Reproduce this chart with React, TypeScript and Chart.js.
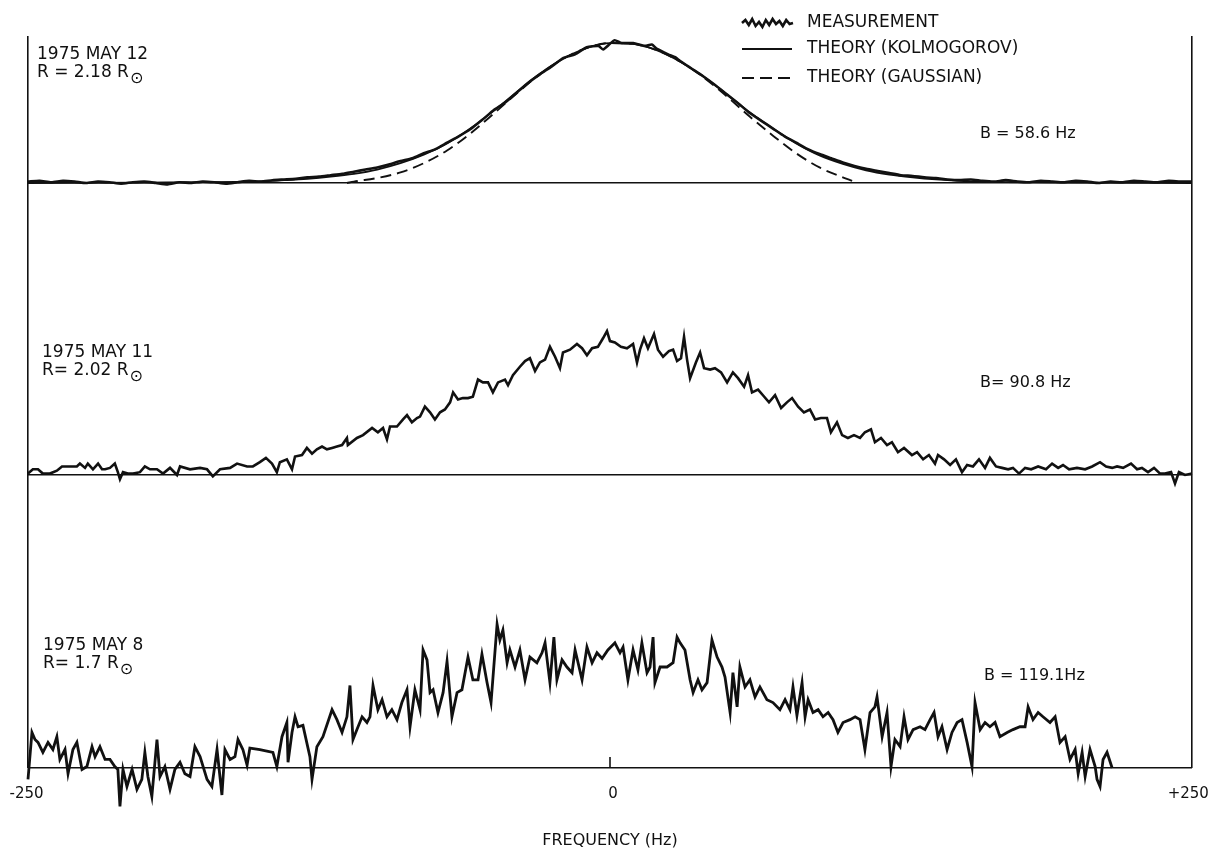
import { useEffect, useRef } from 'react';
import { Chart, registerables } from 'chart.js';

Chart.register(...registerables);

const FONT = '"DejaVu Sans", sans-serif';
const INK = '#111111';

// Frequency axis (Hz); padding spaces nudge the centred labels
const FREQ_TICKS = [-250, 0, 250];
const FREQ_TICK_LABELS = ['-250\u2009', '\u2009\u20090', '+250\u2002'];

// 1975 May 12, R = 2.18 Rsun — [frequency Hz, relative power %]
const MAY12_MEASURED: [number, number][] = [
  [-250, 1], [-245, 1.5], [-240, 0.5], [-235, 1.5], [-230, 1], [-225, 0], [-220, 1], [-215, 0.5],
  [-210, -0.5], [-205, 0.5], [-200, 1], [-195, 0], [-190, -1], [-185, 0.5], [-180, 0], [-175, 1],
  [-170, 0.5], [-165, -0.5], [-160, 0.5], [-155, 1.5], [-150, 1], [-145, 2], [-140, 2.5], [-135, 3],
  [-130, 4], [-125, 4.5], [-120, 5.5], [-115, 6.5], [-110, 8], [-105, 9.5], [-100, 11], [-95, 13],
  [-90, 15.5], [-85, 17.5], [-80, 21], [-75, 24], [-70, 28.5], [-65, 33], [-60, 38], [-55, 44.5],
  [-50, 51.5], [-45, 57], [-40, 64], [-35, 71], [-30, 77], [-25, 82.5], [-20, 88.5], [-15, 91],
  [-10, 96], [-5, 97], [-3, 94.5], [0, 98.5], [2, 101], [5, 99], [10, 99], [15, 97], [18, 98],
  [20, 95], [25, 91], [28, 89], [30, 86.5], [35, 81], [40, 75.5], [45, 69.5], [50, 63], [55, 56.5],
  [60, 49.5], [65, 44], [70, 38.5], [75, 33], [80, 28.5], [85, 24], [90, 20.5], [95, 17.5],
  [100, 14.5], [105, 12], [110, 10], [115, 8.5], [120, 7], [125, 5.5], [130, 5], [135, 4],
  [140, 3.5], [145, 2.5], [150, 2], [155, 2.5], [160, 1.5], [165, 1], [170, 2], [175, 1],
  [180, 0.5], [185, 1.5], [190, 1], [195, 0.5], [200, 1.5], [205, 1], [210, 0], [215, 1],
  [220, 0.5], [225, 1.5], [230, 1], [235, 0.5], [240, 1.5], [245, 1], [250, 1],
];

const MAY12_KOLMOGOROV: [number, number][] = [
  [-250, 0], [-200, 0.3], [-160, 0.8], [-150, 1.2], [-140, 2], [-130, 3], [-120, 4.5], [-110, 6.5],
  [-100, 9.5], [-90, 14], [-80, 20], [-70, 28], [-60, 38.5], [-50, 51], [-40, 64.5], [-30, 77.5],
  [-20, 88], [-10, 95.5], [0, 99], [10, 98.5], [20, 94], [30, 86], [40, 75.5], [50, 63],
  [60, 50], [70, 38.5], [80, 28], [90, 19.5], [100, 13.5], [110, 9], [120, 6], [130, 4],
  [140, 2.5], [150, 1.5], [160, 1], [200, 0.3], [250, 0],
];

const MAY12_GAUSSIAN: [number, number][] = [
  [-113, 0], [-110, 1], [-100, 3.5], [-90, 7.5], [-80, 14], [-70, 23], [-60, 35], [-50, 49],
  [-40, 63.5], [-30, 77], [-20, 88], [-10, 95.5], [0, 99], [10, 98.5], [20, 94], [30, 86],
  [40, 75], [50, 61.5], [60, 47], [70, 33.5], [80, 21], [90, 11], [100, 4], [104, 1.5],
];

// 1975 May 11, R = 2.02 Rsun
const MAY11_MEASURED: [number, number][] = [
  [-250.0, 1], [-247.9, 4], [-245.7, 4], [-243.6, 1], [-240.6, 1], [-237.6, 3], [-235.4, 6], [-233.3, 6],
  [-231.1, 6], [-229.0, 6], [-227.7, 8], [-225.5, 5], [-224.3, 8], [-222.1, 4], [-219.9, 8], [-218.2, 4],
  [-216.9, 4], [-214.8, 5], [-212.7, 8], [-211.4, 2], [-210.5, -3], [-209.2, 2], [-207.1, 1], [-204.9, 1],
  [-201.9, 2], [-199.8, 6], [-197.6, 4], [-194.6, 4], [-192.0, 1], [-189.0, 5], [-186.0, 0], [-184.7, 6],
  [-180.4, 4], [-176.1, 5], [-173.1, 4], [-170.6, -1], [-167.5, 4], [-163.2, 5], [-160.2, 8], [-155.9, 6],
  [-153.4, 6], [-150.4, 9], [-147.8, 12], [-145.2, 8], [-143.1, 2], [-141.8, 9], [-138.8, 11], [-136.6, 4],
  [-135.3, 13], [-132.3, 14], [-130.2, 19], [-128.0, 15], [-125.9, 18], [-123.7, 20], [-121.6, 18], [-119.4, 19],
  [-117.3, 20], [-115.1, 21], [-113.0, 26], [-112.6, 21], [-108.7, 26], [-106.1, 28], [-102.2, 33], [-99.7, 30],
  [-97.5, 33], [-95.8, 25], [-94.5, 34], [-91.5, 34], [-88.9, 39], [-87.2, 42], [-85.1, 37], [-82.9, 40],
  [-81.6, 41], [-79.5, 48], [-77.3, 44], [-75.2, 39], [-73.0, 44], [-70.9, 46], [-68.7, 51], [-67.4, 58],
  [-65.3, 53], [-63.2, 54], [-61.0, 54], [-58.9, 55], [-56.7, 67], [-54.6, 65], [-52.4, 65], [-50.3, 58],
  [-48.1, 65], [-45.1, 67], [-43.8, 63], [-41.7, 70], [-38.7, 76], [-36.5, 80], [-34.4, 82], [-32.2, 73],
  [-30.1, 79], [-27.9, 81], [-25.8, 90], [-23.6, 83], [-21.5, 75], [-20.2, 86], [-17.2, 88], [-14.2, 92],
  [-12.0, 89], [-9.9, 84], [-7.7, 89], [-5.2, 90], [-3.0, 96], [-1.3, 101], [0.0, 94], [2.1, 93],
  [4.7, 90], [7.3, 89], [9.9, 92], [11.6, 79], [12.9, 88], [14.6, 96], [16.3, 89], [18.9, 99],
  [20.6, 88], [22.8, 83], [25.3, 87], [27.1, 88], [28.8, 80], [30.5, 82], [31.8, 97], [33.1, 81],
  [34.4, 68], [36.9, 79], [38.7, 86], [40.4, 75], [43.0, 74], [45.1, 75], [47.7, 72], [50.3, 65],
  [52.8, 72], [55.0, 68], [57.6, 62], [59.3, 70], [61.0, 58], [63.6, 60], [65.7, 56], [68.3, 51],
  [70.9, 56], [73.5, 47], [76.0, 51], [78.2, 54], [80.8, 48], [83.3, 44], [85.9, 46], [88.1, 39],
  [90.6, 40], [93.2, 40], [94.9, 30], [97.5, 37], [99.7, 28], [102.2, 26], [104.8, 28], [107.4, 26],
  [109.5, 30], [112.1, 32], [113.8, 23], [116.4, 26], [119.0, 21], [121.1, 23], [123.7, 16], [126.3, 19],
  [129.7, 14], [131.9, 16], [134.5, 11], [137.0, 14], [139.6, 8], [140.9, 14], [143.5, 11], [146.1, 7],
  [148.6, 11], [151.2, 2], [153.4, 7], [155.9, 6], [158.5, 11], [161.1, 5], [163.2, 12], [165.8, 6],
  [168.4, 5], [171.0, 4], [173.1, 5], [175.7, 1], [178.3, 5], [180.9, 4], [183.9, 6], [187.3, 4],
  [189.9, 8], [192.5, 5], [194.6, 7], [197.2, 4], [200.6, 5], [204.1, 4], [207.1, 6], [210.5, 9],
  [213.1, 6], [215.7, 5], [217.8, 6], [220.4, 5], [223.8, 8], [226.4, 4], [228.5, 5], [231.1, 2],
  [233.7, 5], [236.3, 1], [238.4, 1], [241.0, 2], [242.7, -6], [244.4, 2], [247.0, 0], [250.0, 1],
];

// 1975 May 8, R = 1.7 Rsun
const MAY8_MEASURED: [number, number][] = [
  [-250.0, -8], [-248.3, 25], [-247.0, 20], [-245.7, 18], [-243.6, 11], [-241.4, 18], [-239.3, 13], [-237.6, 22],
  [-236.3, 6], [-234.1, 13], [-232.8, -4], [-230.7, 13], [-229.0, 18], [-226.8, -1], [-224.7, 1], [-222.5, 15],
  [-221.2, 8], [-219.1, 15], [-216.9, 6], [-214.8, 6], [-212.7, 1], [-211.4, -1], [-210.5, -27], [-209.2, -1],
  [-207.5, -13], [-205.3, -1], [-203.2, -15], [-201.1, -8], [-199.8, 11], [-198.5, -6], [-196.8, -20], [-194.6, 20],
  [-193.3, -6], [-191.2, 1], [-189.0, -15], [-186.9, -1], [-184.7, 4], [-182.6, -4], [-180.4, -6], [-178.3, 15],
  [-176.1, 8], [-173.1, -8], [-171.0, -13], [-168.8, 13], [-166.7, -19], [-165.4, 13], [-163.2, 6], [-161.1, 8],
  [-159.8, 20], [-157.7, 13], [-155.9, 2], [-154.7, 14], [-150.4, 13], [-144.8, 11], [-143.1, 1], [-140.9, 22],
  [-138.8, 32], [-138.3, 4], [-136.6, 25], [-135.3, 36], [-134.0, 29], [-131.9, 30], [-128.9, 8], [-128.0, -8],
  [-125.9, 15], [-123.3, 22], [-119.4, 41], [-117.3, 34], [-115.1, 25], [-113.0, 36], [-111.7, 58], [-110.4, 20],
  [-108.7, 27], [-106.5, 36], [-104.4, 32], [-103.1, 36], [-101.8, 58], [-99.7, 41], [-97.9, 48], [-95.8, 36],
  [-93.7, 41], [-91.5, 34], [-89.4, 46], [-87.2, 55], [-85.9, 29], [-83.8, 55], [-81.6, 41], [-80.3, 83],
  [-78.6, 76], [-77.3, 53], [-76.0, 55], [-73.9, 39], [-71.7, 53], [-70.0, 75], [-67.9, 36], [-65.7, 53],
  [-63.6, 55], [-61.0, 78], [-58.9, 62], [-56.7, 62], [-55.0, 80], [-52.8, 60], [-51.1, 46], [-48.5, 101],
  [-47.3, 90], [-46.0, 97], [-44.2, 74], [-43.0, 83], [-40.8, 71], [-38.7, 83], [-36.5, 62], [-34.4, 78],
  [-31.4, 74], [-29.2, 81], [-27.9, 88], [-25.8, 60], [-24.1, 92], [-22.8, 62], [-20.6, 76], [-18.5, 71],
  [-16.3, 67], [-15.0, 83], [-12.0, 62], [-9.9, 85], [-7.7, 74], [-5.6, 81], [-3.4, 77], [-0.9, 83],
  [2.1, 88], [4.3, 81], [5.6, 85], [7.7, 62], [9.9, 83], [12.0, 69], [13.7, 88], [15.9, 67],
  [17.2, 71], [18.5, 92], [19.3, 60], [21.5, 71], [24.5, 71], [27.1, 74], [28.8, 92], [30.1, 88],
  [32.2, 83], [34.4, 62], [35.7, 53], [37.8, 62], [39.5, 55], [41.7, 60], [43.8, 90], [46.0, 78],
  [48.1, 71], [49.4, 64], [51.6, 39], [52.8, 67], [54.6, 43], [55.8, 71], [58.0, 57], [60.1, 62],
  [62.3, 50], [64.4, 57], [67.4, 48], [70.0, 46], [73.0, 41], [75.2, 48], [77.3, 41], [78.6, 57],
  [80.3, 37], [82.5, 60], [83.8, 36], [85.1, 48], [87.2, 39], [89.4, 41], [91.5, 36], [93.7, 39],
  [95.8, 34], [97.9, 25], [100.1, 32], [103.1, 34], [105.3, 36], [107.4, 34], [109.5, 13], [111.7, 39],
  [113.8, 43], [114.7, 50], [116.9, 22], [119.0, 39], [120.7, 1], [122.4, 20], [124.6, 15], [126.3, 36],
  [128.0, 20], [130.2, 27], [133.2, 29], [135.3, 27], [137.5, 34], [139.2, 39], [140.9, 22], [142.6, 29],
  [144.8, 13], [146.9, 25], [149.1, 32], [151.2, 34], [153.4, 18], [155.5, 1], [156.8, 46], [159.0, 27],
  [161.1, 32], [163.2, 29], [165.4, 32], [167.5, 22], [170.6, 25], [173.1, 27], [176.1, 29], [178.3, 29],
  [179.6, 43], [181.7, 34], [183.9, 39], [186.0, 36], [189.0, 32], [191.2, 36], [193.3, 18], [195.5, 22],
  [197.6, 6], [199.8, 13], [201.1, -4], [202.8, 11], [204.1, -6], [206.2, 13], [208.4, 1], [209.2, -8],
  [210.5, -13], [211.8, 6], [213.5, 11], [215.7, 0],
];

// Panel captions, top to bottom
const PANEL_AXES = ['y12', 'y11', 'y8'];
const PANEL_DATES = ['1975 MAY 12', '1975 MAY 11', '1975 MAY 8'];
const PANEL_RADII = ['R = 2.18 R', 'R= 2.02 R', 'R= 1.7 R'];
const PANEL_BANDWIDTHS = ['B = 58.6 Hz', 'B= 90.8 Hz', 'B = 119.1Hz'];

const LEGEND_LABELS = ['MEASUREMENT', 'THEORY (KOLMOGOROV)', 'THEORY (GAUSSIAN)'];

const toXY = (pts: [number, number][]) => pts.map(([x, y]) => ({ x, y }));

// one hidden linear axis per panel, stacked on the left; only its zero line is drawn
const panelAxis = (max: number, weight: number) => ({
  type: 'linear' as const,
  position: 'left' as const,
  stack: 'panels',
  stackWeight: weight,
  min: 0,
  max,
  afterBuildTicks: (s: any) => {
    s.ticks = [{ value: 0 }];
  },
  afterFit: (s: any) => {
    s.width = 0;
  },
  ticks: { display: false },
  border: { display: false },
  grid: { drawTicks: false, color: INK, lineWidth: 1.6 },
});

// captions, legend and the inward zero tick
const decorations = {
  id: 'spectrumDecorations',
  afterDraw(chart: any) {
    const { ctx, scales } = chart;
    const xs = scales.x;
    ctx.save();
    ctx.fillStyle = INK;
    ctx.strokeStyle = INK;

    const x0 = xs.getPixelForValue(0);
    const b8 = scales.y8.getPixelForValue(0);
    ctx.lineWidth = 1.6;
    ctx.beginPath();
    ctx.moveTo(x0, b8 - 11);
    ctx.lineTo(x0, b8);
    ctx.stroke();

    const dateOffsets = [124, 118, 118];
    const bOffsets = [49, 92, 92];
    const leftX = [37, 42, 43];
    const bX = [980, 980, 984];
    PANEL_AXES.forEach((id, i) => {
      const base = scales[id].getPixelForValue(0);
      const top = base - dateOffsets[i];
      ctx.font = `17px ${FONT}`;
      ctx.textBaseline = 'alphabetic';
      ctx.textAlign = 'left';
      ctx.fillText(PANEL_DATES[i], leftX[i], top);
      ctx.fillText(PANEL_RADII[i], leftX[i], top + 18);
      const w = ctx.measureText(PANEL_RADII[i]).width;
      ctx.font = `16px ${FONT}`;
      ctx.fillText('\u2299', leftX[i] + w + 1, top + 24);
      ctx.textBaseline = 'middle';
      ctx.fillText(PANEL_BANDWIDTHS[i], bX[i], base - bOffsets[i]);
    });

    // legend
    const lx0 = 742;
    const lx1 = 793;
    const rows = [23, 49, 78];
    ctx.lineWidth = 2.6;
    const wiggle = [0, -3, 2, -4, 3, -1, 4, -3, 2, -4, 1, -2, 3, -3, 1, 0];
    ctx.beginPath();
    wiggle.forEach((d, k) => {
      const px = lx0 + ((lx1 - lx0) * k) / (wiggle.length - 1);
      if (k === 0) ctx.moveTo(px, rows[0] + d);
      else ctx.lineTo(px, rows[0] + d);
    });
    ctx.stroke();
    ctx.lineWidth = 2;
    ctx.beginPath();
    ctx.moveTo(lx0, rows[1]);
    ctx.lineTo(lx1 - 1, rows[1]);
    ctx.stroke();
    ctx.setLineDash([12, 6]);
    ctx.beginPath();
    ctx.moveTo(lx0, rows[2]);
    ctx.lineTo(lx1, rows[2]);
    ctx.stroke();
    ctx.setLineDash([]);

    ctx.font = `17px ${FONT}`;
    ctx.textBaseline = 'middle';
    LEGEND_LABELS.forEach((t, i) => ctx.fillText(t, 807, rows[i]));
    ctx.restore();
  },
};

export default function App() {
  const ref = useRef<HTMLCanvasElement | null>(null);

  useEffect(() => {
    if (!ref.current) return;
    const line = {
      borderColor: INK,
      pointRadius: 0,
      pointHoverRadius: 0,
      clip: false as const,
      fill: false,
    };
    const chart = new Chart(ref.current, {
      type: 'line',
      data: {
        datasets: [
          { ...line, label: LEGEND_LABELS[0], data: toXY(MAY12_MEASURED), yAxisID: 'y12', borderWidth: 2.6, tension: 0.2 },
          { ...line, label: LEGEND_LABELS[1], data: toXY(MAY12_KOLMOGOROV), yAxisID: 'y12', borderWidth: 1.8, cubicInterpolationMode: 'monotone' },
          { ...line, label: LEGEND_LABELS[2], data: toXY(MAY12_GAUSSIAN), yAxisID: 'y12', borderWidth: 1.9, borderDash: [11, 6], cubicInterpolationMode: 'monotone' },
          { ...line, label: PANEL_DATES[1], data: toXY(MAY11_MEASURED), yAxisID: 'y11', borderWidth: 2.6, tension: 0 },
          { ...line, label: PANEL_DATES[2], data: toXY(MAY8_MEASURED), yAxisID: 'y8', borderWidth: 2.8, tension: 0 },
        ],
      },
      options: {
        responsive: false,
        animation: false,
        devicePixelRatio: 1,
        layout: { padding: { left: 28, right: 16, top: 36, bottom: 0 } },
        plugins: { legend: { display: false }, tooltip: { enabled: false } },
        events: [],
        scales: {
          x: {
            type: 'linear',
            position: 'bottom',
            min: -250,
            max: 250,
            afterBuildTicks: (s: any) => {
              s.ticks = FREQ_TICKS.map((v) => ({ value: v }));
            },
            afterFit: (s: any) => {
              s.height = 82;
              s.paddingLeft = 0;
              s.paddingRight = 0;
            },
            ticks: {
              autoSkip: false,
              maxRotation: 0,
              padding: 17,
              color: INK,
              font: { family: FONT, size: 15 },
              callback: (v: any) => FREQ_TICK_LABELS[FREQ_TICKS.indexOf(Number(v))],
            },
            grid: {
              drawTicks: false,
              lineWidth: 1.6,
              color: (c: any) => (c.tick && c.tick.value === 0 ? 'rgba(0,0,0,0)' : INK),
            },
            border: { display: false },
            title: {
              display: true,
              text: 'FREQUENCY (Hz)',
              color: INK,
              font: { family: FONT, size: 16 },
              padding: { top: 0, bottom: 0 },
            },
          },
          // stacked boxes are laid out bottom-up in key order
          y8: panelAxis(206, 293),
          y11: panelAxis(205, 292),
          y12: panelAxis(104, 147),
        },
      } as any,
      plugins: [decorations],
    });
    return () => chart.destroy();
  }, []);

  return (
    <div style={{ position: 'fixed', left: 0, top: 0, width: 1208, height: 850, background: '#ffffff' }}>
      <canvas ref={ref} width={1208} height={850} style={{ display: 'block' }} />
    </div>
  );
}
